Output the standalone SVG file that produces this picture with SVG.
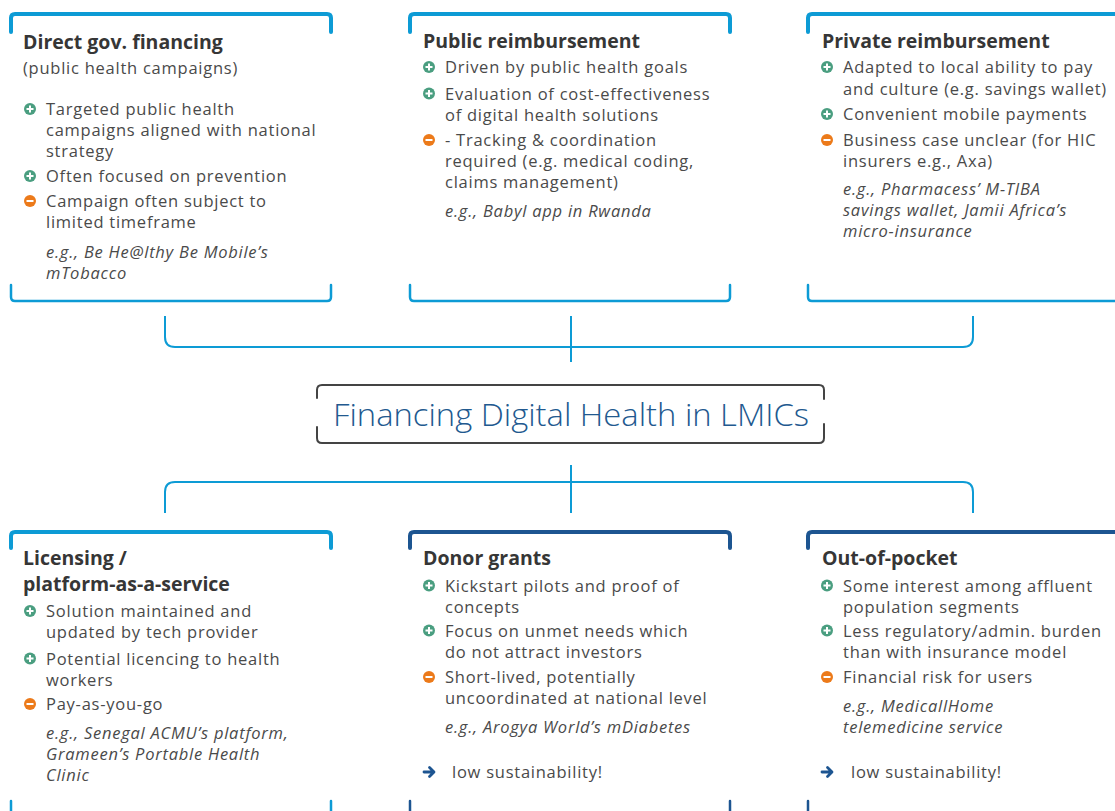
<svg xmlns="http://www.w3.org/2000/svg" width="1115" height="811" viewBox="0 0 1115 811">
<style>
.t{font-family:"Open Sans","Liberation Sans",sans-serif;font-size:19.5px;font-weight:700;fill:#363636}
.b{font-family:"Open Sans","Liberation Sans",sans-serif;font-size:16.5px;letter-spacing:0.75px;fill:#4a4a4a}
.i{font-family:"Open Sans","Liberation Sans",sans-serif;font-size:16.5px;font-style:italic;letter-spacing:0.75px;fill:#4a4a4a}
.lt{fill:none;stroke:#0d9bd5;stroke-width:4;stroke-linecap:round}
.lb{fill:none;stroke:#0d9bd5;stroke-width:2.5;stroke-linecap:round}
.dt{fill:none;stroke:#1d5591;stroke-width:4;stroke-linecap:round}
.db{fill:none;stroke:#1d5591;stroke-width:2.5;stroke-linecap:round}
.conn{fill:none;stroke:#0d9bd5;stroke-width:2}
.pc{fill:#4a9e80}
.mc{fill:#ec7a1a}
.sym{stroke:#fff;stroke-width:2;fill:none}
.arr{fill:none;stroke:#1d5591;stroke-width:2.8;stroke-linecap:round;stroke-linejoin:round}
</style>
<defs>
<g id="plus"><circle class="pc" r="6"/><path class="sym" d="M-3.5,0H3.5M0,-3.5V3.5"/></g>
<g id="minus"><circle class="mc" r="6"/><path class="sym" d="M-3.5,0H3.5"/></g>
<g id="arrow"><path class="arr" d="M-5,0H4.5M0.5,-4.5L5,0L0.5,4.5"/></g>
</defs>
<rect width="1115" height="811" fill="#fff"/>

<g id="connectors">
<path class="conn" d="M165,316V337Q165,347 175,347H963Q973,347 973,337V316"/>
<path class="conn" d="M571,316V362"/>
<path class="conn" d="M165,513V492Q165,482 175,482H963Q973,482 973,492V513"/>
<path class="conn" d="M571,465V513"/>
</g>

<g id="center">
<path d="M317,398V390Q317,385 322,385H819Q824,385 824,390V399M317,427V438Q317,443 322,443H819Q824,443 824,438V424" fill="none" stroke="#444" stroke-width="2" stroke-linecap="round"/>
<text x="571" y="426" text-anchor="middle" font-family="'Open Sans','Liberation Sans',sans-serif" font-size="31" font-weight="300" fill="#22598f" textLength="476" lengthAdjust="spacingAndGlyphs">Financing Digital Health in LMICs</text>
</g>

<g id="direct-gov">
<path class="lt" d="M11,32V18Q11,14 15,14H327Q331,14 331,18V32"/>
<path class="lb" d="M11,285V297Q11,301 15,301H327Q331,301 331,297V285"/>
<text class="t" x="23" y="49">Direct gov. financing</text>
<text class="b" x="23" y="74">(public health campaigns)</text>
<use href="#plus" x="30" y="109"/>
<text class="b" x="46" y="115">Targeted public health</text>
<text class="b" x="46" y="136">campaigns aligned with national</text>
<text class="b" x="46" y="157">strategy</text>
<use href="#plus" x="30" y="176"/>
<text class="b" x="46" y="182">Often focused on prevention</text>
<use href="#minus" x="30" y="201"/>
<text class="b" x="46" y="207">Campaign often subject to</text>
<text class="b" x="46" y="228">limited timeframe</text>
<text class="i" x="46" y="257.5">e.g., Be He@lthy Be Mobile’s</text>
<text class="i" x="46" y="278.5">mTobacco</text>
</g>

<g id="public-reimb">
<path class="lt" d="M410,32V18Q410,14 414,14H726Q730,14 730,18V32"/>
<path class="lb" d="M410,285V297Q410,301 414,301H726Q730,301 730,297V285"/>
<text class="t" x="423" y="48">Public reimbursement</text>
<use href="#plus" x="429" y="67"/>
<text class="b" x="445" y="73">Driven by public health goals</text>
<use href="#plus" x="429" y="93.5"/>
<text class="b" x="445" y="99.5">Evaluation of cost-effectiveness</text>
<text class="b" x="445" y="120.5">of digital health solutions</text>
<use href="#minus" x="429" y="140"/>
<text class="b" x="445" y="146">- Tracking &amp; coordination</text>
<text class="b" x="445" y="167">required (e.g. medical coding,</text>
<text class="b" x="445" y="188">claims management)</text>
<text class="i" x="445" y="217">e.g., Babyl app in Rwanda</text>
</g>

<g id="private-reimb">
<path class="lt" d="M808,32V18Q808,14 812,14H1125"/>
<path class="lb" d="M808,285V297Q808,301 812,301H1125"/>
<text class="t" x="822" y="48">Private reimbursement</text>
<use href="#plus" x="827" y="67"/>
<text class="b" x="843" y="73">Adapted to local ability to pay</text>
<text class="b" x="843" y="95">and culture (e.g. savings wallet)</text>
<use href="#plus" x="827" y="114"/>
<text class="b" x="843" y="120">Convenient mobile payments</text>
<use href="#minus" x="827" y="140"/>
<text class="b" x="843" y="146">Business case unclear (for HIC</text>
<text class="b" x="843" y="167">insurers e.g., Axa)</text>
<text class="i" x="843" y="195">e.g., Pharmacess’ M-TIBA</text>
<text class="i" x="843" y="216">savings wallet, Jamii Africa’s</text>
<text class="i" x="843" y="237">micro-insurance</text>
</g>

<g id="licensing">
<path class="lt" d="M11,548V536Q11,532 15,532H327Q331,532 331,536V548"/>
<path class="lb" d="M11,801V815M331,801V815"/>
<text class="t" x="23" y="565">Licensing /</text>
<text class="t" x="23" y="591">platform-as-a-service</text>
<use href="#plus" x="30" y="611"/>
<text class="b" x="46" y="617">Solution maintained and</text>
<text class="b" x="46" y="638">updated by tech provider</text>
<use href="#plus" x="30" y="658.5"/>
<text class="b" x="46" y="664.5">Potential licencing to health</text>
<text class="b" x="46" y="685.5">workers</text>
<use href="#minus" x="30" y="704"/>
<text class="b" x="46" y="710">Pay-as-you-go</text>
<text class="i" x="46" y="739">e.g., Senegal ACMU’s platform,</text>
<text class="i" x="46" y="760">Grameen’s Portable Health</text>
<text class="i" x="46" y="781">Clinic</text>
</g>

<g id="donor-grants">
<path class="dt" d="M410,548V536Q410,532 414,532H726Q730,532 730,536V548"/>
<path class="db" d="M410,801V815M730,801V815"/>
<text class="t" x="423" y="565">Donor grants</text>
<use href="#plus" x="429" y="585.5"/>
<text class="b" x="445" y="591.5">Kickstart pilots and proof of</text>
<text class="b" x="445" y="612.5">concepts</text>
<use href="#plus" x="429" y="630.5"/>
<text class="b" x="445" y="636.5">Focus on unmet needs which</text>
<text class="b" x="445" y="657.5">do not attract investors</text>
<use href="#minus" x="429" y="677"/>
<text class="b" x="445" y="683">Short-lived, potentially</text>
<text class="b" x="445" y="704">uncoordinated at national level</text>
<text class="i" x="445" y="733">e.g., Arogya World’s mDiabetes</text>
<use href="#arrow" x="429" y="772"/>
<text class="b" x="452" y="778">low sustainability!</text>
</g>

<g id="out-of-pocket">
<path class="dt" d="M808,548V536Q808,532 812,532H1125"/>
<path class="db" d="M808,801V815"/>
<text class="t" x="822" y="565">Out-of-pocket</text>
<use href="#plus" x="827" y="585.5"/>
<text class="b" x="843" y="591.5">Some interest among affluent</text>
<text class="b" x="843" y="612.5">population segments</text>
<use href="#plus" x="827" y="630.5"/>
<text class="b" x="843" y="636.5">Less regulatory/admin. burden</text>
<text class="b" x="843" y="657.5">than with insurance model</text>
<use href="#minus" x="827" y="677"/>
<text class="b" x="843" y="683">Financial risk for users</text>
<text class="i" x="843" y="712">e.g., MedicallHome</text>
<text class="i" x="843" y="733">telemedicine service</text>
<use href="#arrow" x="827" y="772"/>
<text class="b" x="851" y="778">low sustainability!</text>
</g>
</svg>
